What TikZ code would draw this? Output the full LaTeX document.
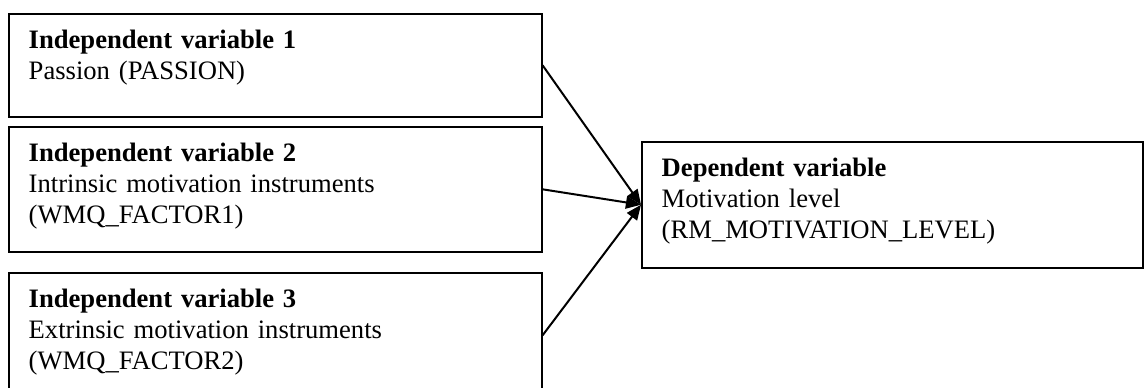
\documentclass[tikz,border=0pt]{standalone}
\usepackage{fontspec}
\setmainfont{Liberation Serif}
\usetikzlibrary{arrows.meta}

\begin{document}
\begin{tikzpicture}[x=0.451pt, y=-0.451pt,
  every node/.style={font=\fontsize{12pt}{13.8pt}\selectfont},
  ivbox/.style={draw, line width=0.7pt, anchor=north west, align=left,
    inner xsep=9pt, inner ysep=0pt, text width=222.4pt, text height=15.8pt},
  dvbox/.style={ivbox, text width=208pt, text depth=41pt},
  arr/.style={-{Triangle[length=6.8pt,width=5.6pt]}, line width=0.9pt}]
\useasboundingbox (0,0) rectangle (1144,387);
\node[ivbox, text depth=30.65pt] (iv1) at (8,13)
  {\textbf{Independent variable 1}\\Passion (PASSION)};
\node[ivbox, text depth=40.6pt] (iv2) at (8,126)
  {\textbf{Independent variable 2}\\Intrinsic motivation instruments\\(WMQ\_FACTOR1)};
\node[ivbox, text depth=40.6pt] (iv3) at (8,272)
  {\textbf{Independent variable 3}\\Extrinsic motivation instruments\\(WMQ\_FACTOR2)};
\node[dvbox] (dv) at (641,141)
  {\textbf{Dependent variable}\\Motivation level\\(RM\_MOTIVATION\_LEVEL)};
\draw[arr] (iv1.east) -- (dv.west);
\draw[arr] (iv2.east) -- (dv.west);
\draw[arr] (iv3.east) -- (dv.west);
\end{tikzpicture}
\end{document}
